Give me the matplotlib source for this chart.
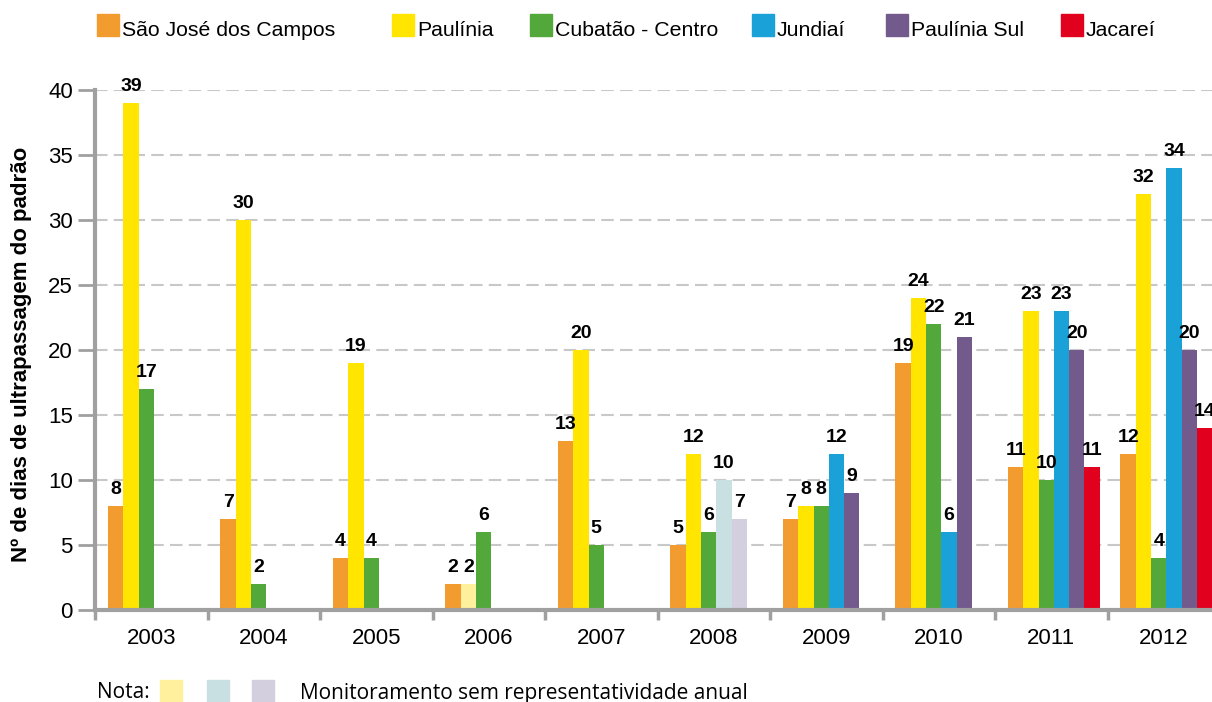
import numpy as np
import matplotlib.pyplot as plt
from matplotlib.patches import Rectangle

plt.rcParams['font.family'] = ['Liberation Sans', 'DejaVu Sans']

anos = ['2003', '2004', '2005', '2006', '2007', '2008', '2009', '2010', '2011', '2012']
estacoes = ['São José dos Campos', 'Paulínia', 'Cubatão - Centro', 'Jundiaí', 'Paulínia Sul', 'Jacareí']
cores = ['#f29c30', '#ffe500', '#52a83a', '#1aa1d8', '#735a8c', '#e1001e']
cores_claras = ['#f29c30', '#fef09c', '#52a83a', '#c8e0e1', '#d3cfdf', '#e1001e']

sjc = [8, 7, 4, 2, 13, 5, 7, 19, 11, 12]
paulinia = [39, 30, 19, 2, 20, 12, 8, 24, 23, 32]
cubatao = [17, 2, 4, 6, 5, 6, 8, 22, 10, 4]
jundiai = [None, None, None, None, None, 10, 12, 6, 23, 34]
paulinia_sul = [None, None, None, None, None, 7, 9, 21, 20, 20]
jacarei = [None, None, None, None, None, None, None, None, 11, 14]
series = [sjc, paulinia, cubatao, jundiai, paulinia_sul, jacarei]

# (estacao, ano) sem representatividade anual
sem_repr = [(1, '2006'), (3, '2008'), (4, '2008')]

fig = plt.figure(figsize=(12.12, 7.02), dpi=100)
ax = fig.add_axes([95 / 1212, 1 - 610 / 702, 1125 / 1212, 520 / 702])

larg = 0.136
off = 0.115
for s, vals in enumerate(series):
    for i, v in enumerate(vals):
        if v is None:
            continue
        cor = cores_claras[s] if (s, anos[i]) in sem_repr else cores[s]
        x = i + off + s * larg
        ax.bar(x, v, width=larg, align='edge', color=cor, zorder=3)
        ax.annotate(str(v), (x + larg / 2, v), xytext=(0, 6), textcoords='offset points',
                    ha='center', va='bottom', fontsize=14, fontweight='bold', zorder=4)

ax.set_xlim(0, 10)
ax.set_ylim(0, 40)
ax.set_yticks(np.arange(0, 41, 5))
ax.set_xticks(np.arange(0, 11))
ax.set_xticklabels([])
ax.set_xticks(np.arange(10) + 0.5, minor=True)
ax.set_xticklabels(anos, minor=True)
ax.tick_params(axis='x', which='minor', length=0, pad=13, labelsize=16)
ax.tick_params(axis='x', which='major', length=7, width=2.5, color='#a0a0a0', direction='out')
ax.tick_params(axis='y', length=12, width=2, color='#a0a0a0', labelsize=16, pad=4)
ax.grid(axis='y', color='#c8c8c8', linestyle=(0, (6, 3)), linewidth=1.5, zorder=0)
ax.set_axisbelow(True)
for sp in ['top', 'right']:
    ax.spines[sp].set_visible(False)
for sp in ['left', 'bottom']:
    ax.spines[sp].set_color('#a0a0a0')
    ax.spines[sp].set_linewidth(3)
    ax.spines[sp].set_zorder(5)

fig.text(22 / 1212, 1 - 354 / 702, 'Nº de dias de ultrapassagem do padrão', rotation=90,
         ha='center', va='center', fontsize=16, fontweight='bold')

# legenda
leg_x = [97, 392, 530, 752, 886, 1061]
for k, nome in enumerate(estacoes):
    fig.patches.append(Rectangle((leg_x[k] / 1212, 1 - 36 / 702), 22 / 1212, 22 / 702,
                                 transform=fig.transFigure, color=cores[k]))
    fig.text((leg_x[k] + 25) / 1212, 1 - 30 / 702, nome, ha='left', va='center', fontsize=15.3)

# nota
fig.text(97 / 1212, 1 - 693 / 702, 'Nota:', ha='left', va='center', fontsize=15, family='Open Sans')
for xn, cn in zip([160, 207, 252], ['#fef09c', '#c8e0e1', '#d3cfdf']):
    fig.patches.append(Rectangle((xn / 1212, 0), 22 / 1212, 22 / 702,
                                 transform=fig.transFigure, color=cn))
fig.text(300 / 1212, 1 - 693 / 702, 'Monitoramento sem representatividade anual',
         ha='left', va='center', fontsize=15, family='Open Sans')

fig.savefig('out.png', dpi=100)
